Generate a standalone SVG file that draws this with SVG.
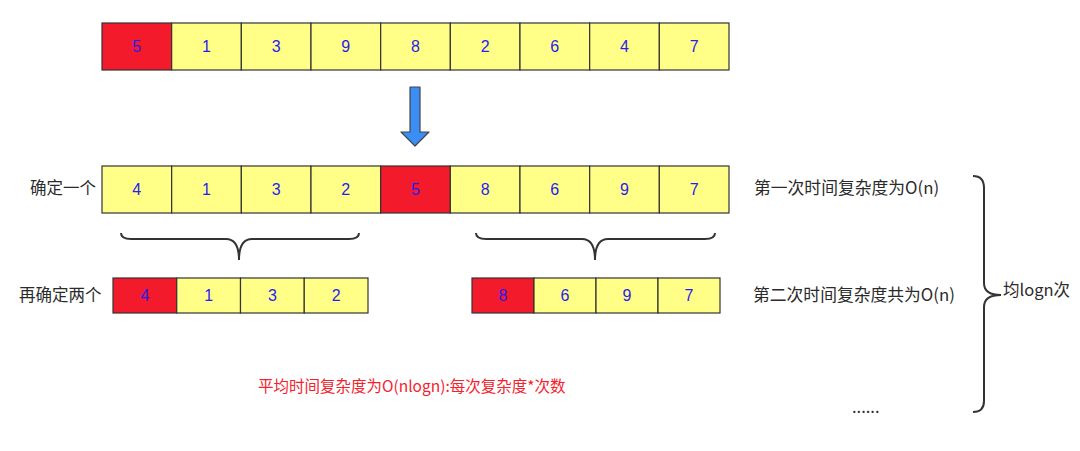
<svg xmlns="http://www.w3.org/2000/svg" width="1080" height="451" viewBox="0 0 1080 451">
<style>
.c{stroke:#333;stroke-width:1.2}
.y{fill:#FFFF88}
.r{fill:#F31A2B}
.d{font-family:"Liberation Sans","Noto Sans CJK SC",sans-serif;font-size:16px;fill:#2A1BF0;text-anchor:middle;dominant-baseline:central}
.t{font-family:"Noto Sans CJK SC",sans-serif;font-size:16.5px;fill:#2b2b2b;dominant-baseline:central}
.br{fill:none;stroke:#333;stroke-width:2}
</style>
<rect width="1080" height="451" fill="#fff"/>
<g id="row1">
<rect class="c r" x="102" y="23" width="69.67" height="47"/>
<rect class="c y" x="171.67" y="23" width="69.67" height="47"/>
<rect class="c y" x="241.33" y="23" width="69.67" height="47"/>
<rect class="c y" x="311" y="23" width="69.67" height="47"/>
<rect class="c y" x="380.67" y="23" width="69.67" height="47"/>
<rect class="c y" x="450.33" y="23" width="69.67" height="47"/>
<rect class="c y" x="520" y="23" width="69.67" height="47"/>
<rect class="c y" x="589.67" y="23" width="69.67" height="47"/>
<rect class="c y" x="659.33" y="23" width="69.67" height="47"/>
<text class="d" x="136.8" y="46.5">5</text>
<text class="d" x="206.5" y="46.5">1</text>
<text class="d" x="276.2" y="46.5">3</text>
<text class="d" x="345.8" y="46.5">9</text>
<text class="d" x="415.5" y="46.5">8</text>
<text class="d" x="485.2" y="46.5">2</text>
<text class="d" x="554.8" y="46.5">6</text>
<text class="d" x="624.5" y="46.5">4</text>
<text class="d" x="694.2" y="46.5">7</text>
</g>
<g id="arrow">
<polygon points="410,87 420,87 420,132 429,132 415,146 401,132 410,132" fill="#3A8EF6" stroke="#444" stroke-width="1.2" stroke-linejoin="round"/>
</g>
<g id="row2">
<rect class="c y" x="102" y="166" width="69.67" height="47"/>
<rect class="c y" x="171.67" y="166" width="69.67" height="47"/>
<rect class="c y" x="241.33" y="166" width="69.67" height="47"/>
<rect class="c y" x="311" y="166" width="69.67" height="47"/>
<rect class="c r" x="380.67" y="166" width="69.67" height="47"/>
<rect class="c y" x="450.33" y="166" width="69.67" height="47"/>
<rect class="c y" x="520" y="166" width="69.67" height="47"/>
<rect class="c y" x="589.67" y="166" width="69.67" height="47"/>
<rect class="c y" x="659.33" y="166" width="69.67" height="47"/>
<text class="d" x="136.8" y="189.5">4</text>
<text class="d" x="206.5" y="189.5">1</text>
<text class="d" x="276.2" y="189.5">3</text>
<text class="d" x="345.8" y="189.5">2</text>
<text class="d" x="415.5" y="189.5">5</text>
<text class="d" x="485.2" y="189.5">8</text>
<text class="d" x="554.8" y="189.5">6</text>
<text class="d" x="624.5" y="189.5">9</text>
<text class="d" x="694.2" y="189.5">7</text>
</g>
<g id="row3left">
<rect class="c r" x="113" y="278" width="63.75" height="35"/>
<rect class="c y" x="176.75" y="278" width="63.75" height="35"/>
<rect class="c y" x="240.5" y="278" width="63.75" height="35"/>
<rect class="c y" x="304.25" y="278" width="63.75" height="35"/>
<text class="d" x="144.9" y="295.5">4</text>
<text class="d" x="208.6" y="295.5">1</text>
<text class="d" x="272.4" y="295.5">3</text>
<text class="d" x="336.1" y="295.5">2</text>
</g>
<g id="row3right">
<rect class="c r" x="472" y="278" width="62" height="35"/>
<rect class="c y" x="534" y="278" width="62" height="35"/>
<rect class="c y" x="596" y="278" width="62" height="35"/>
<rect class="c y" x="658" y="278" width="62" height="35"/>
<text class="d" x="503" y="295.5">8</text>
<text class="d" x="565" y="295.5">6</text>
<text class="d" x="627" y="295.5">9</text>
<text class="d" x="689" y="295.5">7</text>
</g>
<g id="braces">
<path class="br" d="M121,233 Q121,239 131,239 L226,239 Q239,239 239,260 Q239,239 252,239 L349,239 Q359,239 359,233"/>
<path class="br" d="M476,233 Q476,239 486,239 L582,239 Q595,239 595,260 Q595,239 608,239 L705,239 Q715,239 715,233"/>
<path class="br" d="M973,176 Q984,176 984,188 L984,283 Q984,295 1001,295 Q984,295 984,307 L984,401 Q984,412 973,412"/>
</g>
<g id="labels">
<text class="t" x="30" y="187">确定一个</text>
<text class="t" x="19" y="294">再确定两个</text>
<text class="t" x="754" y="187" style="font-size:16.8px">第一次时间复杂度为O(n)</text>
<text class="t" x="753" y="294" style="font-size:16.8px">第二次时间复杂度共为O(n)</text>
<text class="t" x="1003" y="289">均logn次</text>
<text class="t" x="852" y="406">......</text>
<text x="258" y="385" style="font-family:'Noto Sans CJK SC',sans-serif;font-size:15.5px;fill:#F5222D;dominant-baseline:central">平均时间复杂度为O(nlogn):每次复杂度*次数</text>
</g>
</svg>
